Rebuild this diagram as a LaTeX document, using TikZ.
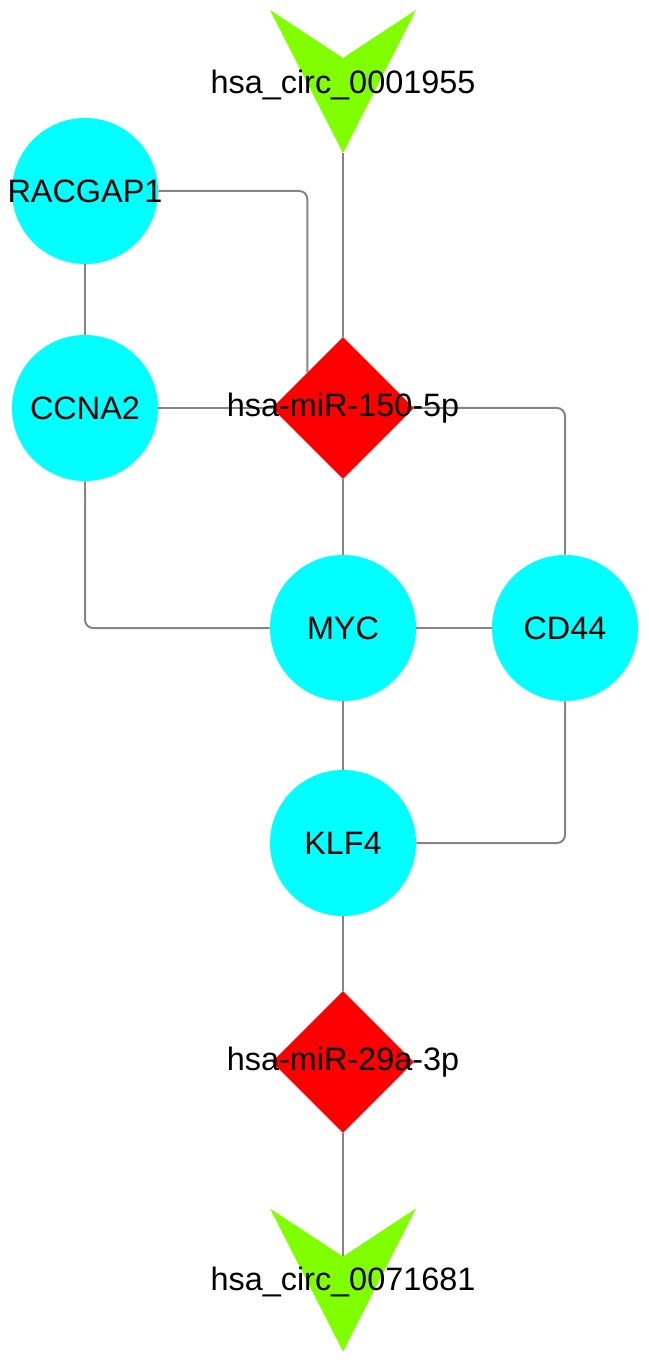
\documentclass[tikz,border=0pt]{standalone}
\usepackage{fontspec}
\setmainfont{Liberation Sans}
\usetikzlibrary{shapes.geometric, positioning, backgrounds}
\definecolor{genecyan}{HTML}{00FFFF}
\definecolor{mirred}{HTML}{FF0000}
\definecolor{circgreen}{HTML}{80FF00}
\definecolor{edgegray}{HTML}{858585}

\begin{document}
\begin{tikzpicture}[
    x=0.5pt, y=-0.5pt, on grid, font=\fontsize{16.2}{19}\selectfont,
    gene/.style={circle, fill=genecyan, minimum size=73pt, inner sep=0pt},
    mirna/.style={diamond, fill=mirred, minimum size=71pt, inner sep=0pt},
    circrna/.style={rectangle, minimum width=73pt, minimum height=71.5pt, inner sep=0pt,
        path picture={\fill[circgreen] (path picture bounding box.north west)
            -- ([yshift=-24pt]path picture bounding box.north)
            -- (path picture bounding box.north east)
            -- (path picture bounding box.south) -- cycle;}},
    link/.style={draw=edgegray, line width=1pt, rounded corners=4pt}
]
\useasboundingbox (0,0) rectangle (648,1363);
\node[mirna, label=center:hsa-miR-150-5p] (mir150) at (343,408) {};
\node[circrna, above=163.25pt of mir150, label={[yshift=-1.5pt]center:hsa\_circ\_0001955}] (circ1) {};
\node[gene, left=129pt of mir150, label=center:CCNA2] (ccna2) {};
\node[gene, above=108.5pt of ccna2, label=center:RACGAP1] (racgap1) {};
\node[gene, below=110pt of mir150, label=center:MYC] (myc) {};
\node[gene, right=111pt of myc, label=center:CD44] (cd44) {};
\node[gene, below=107.5pt of myc, label=center:KLF4] (klf4) {};
\node[mirna, below=109.5pt of klf4, label=center:hsa-miR-29a-3p] (mir29) {};
\node[circrna, below=109pt of mir29, label={[yshift=-1pt]center:hsa\_circ\_0071681}] (circ2) {};
\begin{scope}[on background layer]
\foreach \a/\b in {circ1/mir150,racgap1/ccna2,ccna2/mir150,mir150/myc,myc/cd44,myc/klf4,klf4/mir29,mir29/circ2.center}
    \draw[link] (\a)--(\b);
\draw[link] (racgap1) -| (mir150.north west);
\draw[link] (mir150) -| (cd44);
\draw[link] (ccna2) |- (myc);
\draw[link] (cd44) |- (klf4);
\end{scope}
\end{tikzpicture}
\end{document}
